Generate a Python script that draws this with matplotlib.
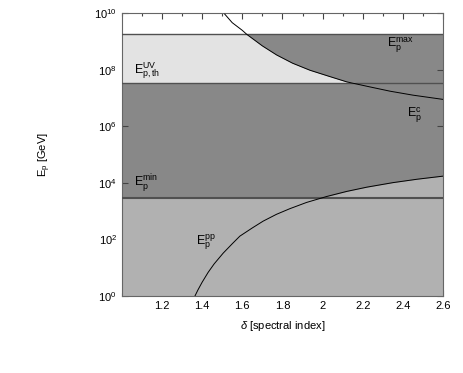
import matplotlib
matplotlib.use("Agg")
import matplotlib.pyplot as plt
import numpy as np
from matplotlib import rcParams

rcParams['font.family'] = ['Liberation Sans', 'DejaVu Sans']
rcParams['mathtext.fontset'] = 'custom'
rcParams['mathtext.rm'] = 'Liberation Sans'
rcParams['mathtext.it'] = 'Liberation Sans:italic'

# horizontal limits (GeV)
E_max = 10**9.25
E_uv = 10**7.52
E_min = 10**3.47

# E_p^c curve
c_delta = [1.513, 1.55, 1.6, 1.622, 1.7, 1.771, 1.85, 1.937, 2.03, 2.12,
           2.23, 2.336, 2.45, 2.6]
c_logE = [9.96, 9.66, 9.39, 9.25, 8.84, 8.52, 8.23, 7.98, 7.77, 7.57,
          7.40, 7.24, 7.10, 6.95]

# E_p^pp curve
pp_delta = [1.364, 1.38, 1.40, 1.43, 1.46, 1.505, 1.55, 1.588, 1.65, 1.704,
            1.77, 1.837, 1.92, 2.02, 2.12, 2.22, 2.35, 2.47, 2.6]
pp_logE = [0.0, 0.23, 0.49, 0.84, 1.14, 1.52, 1.85, 2.12, 2.41, 2.65,
           2.89, 3.09, 3.31, 3.52, 3.70, 3.85, 4.01, 4.13, 4.24]

c_x = np.array(c_delta)
c_y = 10**np.array(c_logE)
pp_x = np.array(pp_delta)
pp_y = 10**np.array(pp_logE)

fig = plt.figure(figsize=(4.63, 3.73), dpi=100)
ax = fig.add_axes([0.263, 0.206, 0.694, 0.759])
ax.set_yscale('log')

dark = '#888888'
light = '#b1b1b1'
vlight = '#e3e3e3'
lcol = '#505050'

# dark band between E_min and E_max
ax.axhspan(E_min, E_max, color=dark, lw=0, zorder=1)
# very light region below E_c above E_uv
fx = np.concatenate([[1.0], c_x])
fup = np.concatenate([[E_max], np.clip(c_y, E_uv, E_max)])
ax.fill_between(fx, E_uv, fup, color=vlight, lw=0, zorder=2)
# light region below max(E_min, E_pp)
gx = np.concatenate([[1.0], pp_x])
gup = np.concatenate([[E_min], np.maximum(pp_y, E_min)])
ax.fill_between(gx, 1.0, gup, color=light, lw=0, zorder=2)

ax.axhline(E_max, color=lcol, lw=1.0, zorder=3)
ax.axhline(E_uv, color=lcol, lw=1.0, zorder=3)
ax.axhline(E_min, color=lcol, lw=1.5, zorder=3)

ax.plot(c_x, c_y, color='black', lw=0.7, zorder=4)
ax.plot(pp_x, pp_y, color='black', lw=0.7, zorder=4)

ax.set_xlim(1.0, 2.6)
ax.set_ylim(1, 1e10)
ax.set_xticks(np.arange(1.2, 2.61, 0.2))
ax.set_xticklabels(['1.2', '1.4', '1.6', '1.8', '2', '2.2', '2.4', '2.6'])
ax.set_xticks(np.arange(1.0, 2.61, 0.1), minor=True)
ax.set_yticks([1e0, 1e2, 1e4, 1e6, 1e8, 1e10])
ax.yaxis.set_minor_locator(matplotlib.ticker.NullLocator())
ax.tick_params(which='both', direction='in', top=True, right=True,
               labelsize=8, color='#444444', width=0.8)
ax.tick_params(which='major', length=4)
ax.tick_params(which='minor', length=2.5)
for s in ax.spines.values():
    s.set_color('#666666')
    s.set_linewidth(0.8)

ax.set_xlabel(r'$\delta$ [spectral index]', fontsize=8, labelpad=6)
ax.set_ylabel(r'$\mathregular{E_p}$ [GeV]', fontsize=8)
ax.yaxis.set_label_coords(-0.215, 0.5)

fs = 9
ax.text(1.06, 10**7.95, r'$\mathregular{E_{p,th}^{UV}}$', fontsize=fs, va='center')
ax.text(1.06, 10**4.0, r'$\mathregular{E_{p}^{min}}$', fontsize=fs, va='center')
ax.text(2.32, 10**8.85, r'$\mathregular{E_{p}^{max}}$', fontsize=fs, va='center')
ax.text(2.42, 10**6.4, r'$\mathregular{E_{p}^{c}}$', fontsize=fs, va='center')
ax.text(1.37, 10**1.9, r'$\mathregular{E_{p}^{pp}}$', fontsize=fs, va='center')

fig.savefig('out.png', dpi=100)
